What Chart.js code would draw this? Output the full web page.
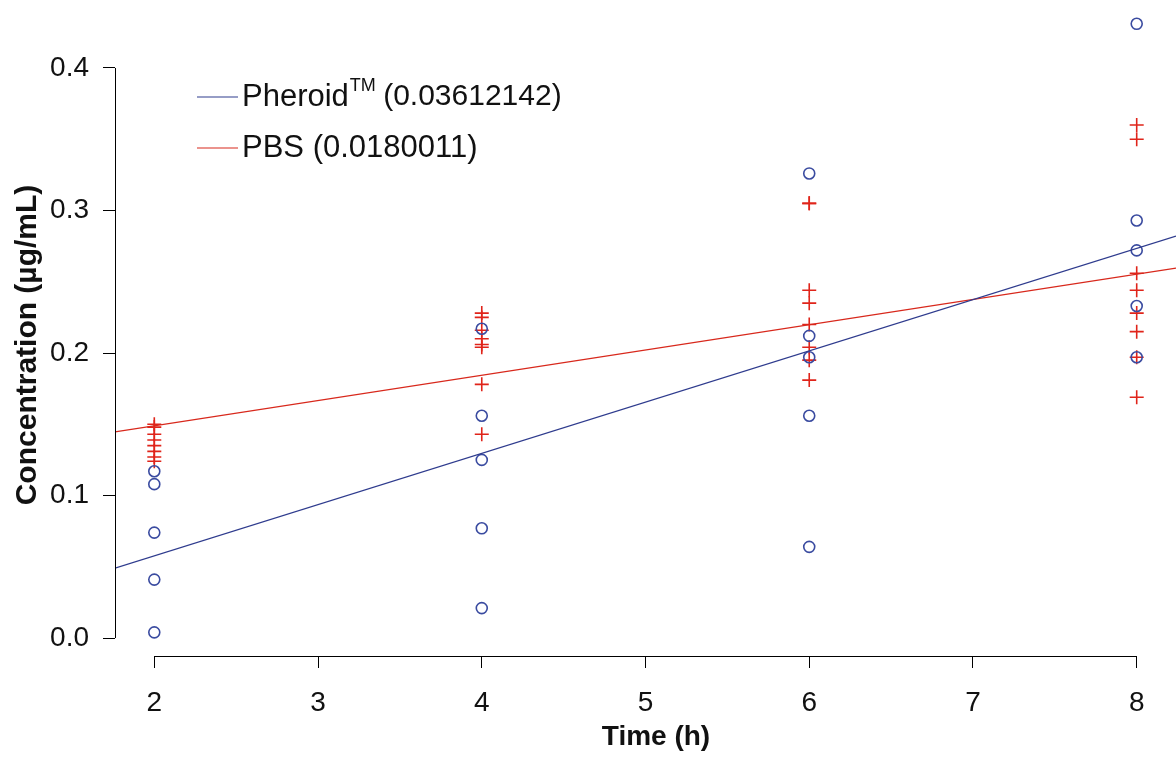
<!DOCTYPE html>
<html>
<head>
<meta charset="utf-8">
<script src="https://cdn.jsdelivr.net/npm/chart.js@4"></script>
<style>
  body { margin: 0; background: #fff; }
  #wrap { width: 1176px; height: 757px; }
</style>
</head>
<body>
<div id="wrap"><canvas id="concChart" width="1176" height="757"></canvas></div>
<script>
const times = [2, 4, 6, 8];
const xTicks = [2, 3, 4, 5, 6, 7, 8];
const yTicks = [0, 0.1, 0.2, 0.3, 0.4];

// Pheroid replicates per time point
const pheroid2 = [0.117, 0.108, 0.074, 0.041, 0.004];
const pheroid4 = [0.217, 0.156, 0.125, 0.077, 0.021];
const pheroid6 = [0.326, 0.212, 0.197, 0.156, 0.064];
const pheroid8 = [0.431, 0.293, 0.272, 0.233, 0.197];

// PBS replicates per time point
const pbs2 = [0.150, 0.148, 0.143, 0.139, 0.135, 0.131, 0.127, 0.124];
const pbs4 = [0.228, 0.225, 0.216, 0.210, 0.206, 0.204, 0.178, 0.143];
const pbs6 = [0.305, 0.305, 0.244, 0.235, 0.220, 0.204, 0.195, 0.181];
const pbs8 = [0.360, 0.350, 0.256, 0.244, 0.228, 0.215, 0.197, 0.169];

// fitted lines, read at the plot edges
const fitX = [1.76, 8.24];
const pheroidFit = [0.049, 0.282];
const pbsFit = [0.1446, 0.2596];

const seriesNames = ["Pheroid", "PBS"];
const slopeLabels = ["(0.03612142)", "(0.0180011)"];
const xTitle = "Time (h)";
const yTitle = "Concentration (µg/mL)";

const blue = "#2f3c8e";
const red = "#d8281c";
const FONT = "'Liberation Sans', Arial, Helvetica, sans-serif";

const toPoints = (groups) =>
  groups.flatMap((vals, i) => vals.map((v) => ({ x: times[i], y: v })));
const toLine = (ys) => ys.map((y, i) => ({ x: fitX[i], y: y }));

const noPadding = (scale) => {
  scale.paddingTop = 0;
  scale.paddingBottom = 0;
  scale.paddingLeft = 0;
  scale.paddingRight = 0;
};

// R style axes: lines only span the tick range, titles placed like the figure
const axisLines = {
  id: "axisLines",
  afterDraw(chart) {
    const ctx = chart.ctx;
    const xs = chart.scales.x;
    const ys = chart.scales.y;
    const area = chart.chartArea;
    ctx.save();
    ctx.strokeStyle = "#000";
    ctx.lineWidth = 1;
    ctx.beginPath();
    ctx.moveTo(area.left + 0.5, ys.getPixelForValue(yTicks[0]));
    ctx.lineTo(area.left + 0.5, ys.getPixelForValue(yTicks[yTicks.length - 1]));
    ctx.moveTo(xs.getPixelForValue(xTicks[0]), area.bottom + 0.5);
    ctx.lineTo(xs.getPixelForValue(xTicks[xTicks.length - 1]), area.bottom + 0.5);
    ctx.stroke();

    ctx.fillStyle = "#111";
    ctx.font = "bold 28px " + FONT;
    ctx.textAlign = "center";
    ctx.textBaseline = "middle";
    ctx.fillText(xTitle, 656, 737);

    ctx.font = "bold 30px " + FONT;
    ctx.translate(28, 345);
    ctx.rotate(-Math.PI / 2);
    ctx.fillText(yTitle, 0, 0);
    ctx.restore();
  },
};

const legendBox = {
  id: "legendBox",
  afterDraw(chart) {
    const ctx = chart.ctx;
    const rows = [
      { y: 97, color: blue, name: seriesNames[0], sup: "TM", tail: slopeLabels[0] },
      { y: 148, color: red, name: seriesNames[1], sup: "", tail: slopeLabels[1] },
    ];
    ctx.save();
    rows.forEach((r) => {
      ctx.strokeStyle = r.color;
      ctx.lineWidth = 1.2;
      ctx.beginPath();
      ctx.moveTo(197, r.y);
      ctx.lineTo(238, r.y);
      ctx.stroke();
      ctx.fillStyle = "#111";
      ctx.textBaseline = "middle";
      ctx.font = "31px " + FONT;
      let x = 242;
      ctx.fillText(r.name, x, r.y);
      x += ctx.measureText(r.name).width;
      if (r.sup) {
        ctx.font = "18px " + FONT;
        ctx.fillText(r.sup, x + 1, r.y - 11);
        x += ctx.measureText(r.sup).width;
        ctx.font = "30px " + FONT;
      }
      ctx.fillText(" " + r.tail, x, r.y);
    });
    ctx.restore();
  },
};

new Chart(document.getElementById("concChart"), {
  data: {
    datasets: [
      {
        type: "line",
        label: seriesNames[0] + " fit",
        data: toLine(pheroidFit),
        borderColor: blue,
        borderWidth: 1.3,
        pointRadius: 0,
      },
      {
        type: "line",
        label: seriesNames[1] + " fit",
        data: toLine(pbsFit),
        borderColor: red,
        borderWidth: 1.3,
        pointRadius: 0,
      },
      {
        type: "scatter",
        label: seriesNames[0],
        data: toPoints([pheroid2, pheroid4, pheroid6, pheroid8]),
        pointStyle: "circle",
        pointRadius: 5.5,
        borderColor: "#3a4ba0",
        backgroundColor: "rgba(0,0,0,0)",
        borderWidth: 1.6,
      },
      {
        type: "scatter",
        label: seriesNames[1],
        data: toPoints([pbs2, pbs4, pbs6, pbs8]),
        pointStyle: "cross",
        pointRadius: 7,
        borderColor: "#e0241a",
        borderWidth: 1.6,
      },
    ],
  },
  options: {
    responsive: false,
    animation: false,
    layout: { autoPadding: false, padding: { top: 1, right: 0, left: 0, bottom: 0 } },
    plugins: {
      legend: { display: false },
      tooltip: { enabled: false },
    },
    scales: {
      x: {
        type: "linear",
        min: 1.76,
        max: 8.24,
        afterBuildTicks: (scale) => {
          scale.ticks = xTicks.map((v) => ({ value: v }));
        },
        afterFit: (scale) => {
          scale.height = 101;
          noPadding(scale);
        },
        grid: {
          display: true,
          drawOnChartArea: false,
          drawTicks: true,
          tickLength: 12,
          color: "#000",
        },
        border: { display: false },
        ticks: {
          color: "#111",
          padding: 18,
          maxRotation: 0,
          font: { family: FONT, size: 28 },
          callback: (v) => String(v),
        },
        title: { display: false },
      },
      y: {
        type: "linear",
        min: -0.0126,
        max: 0.447,
        afterBuildTicks: (scale) => {
          scale.ticks = yTicks.map((v) => ({ value: v }));
        },
        afterFit: (scale) => {
          scale.width = 115;
          noPadding(scale);
        },
        grid: {
          display: true,
          drawOnChartArea: false,
          drawTicks: true,
          tickLength: 12,
          color: "#000",
        },
        border: { display: false },
        ticks: {
          color: "#111",
          padding: 14,
          font: { family: FONT, size: 28 },
          callback: (v) => v.toFixed(1),
        },
        title: { display: false },
      },
    },
  },
  plugins: [axisLines, legendBox],
});
</script>
</body>
</html>
